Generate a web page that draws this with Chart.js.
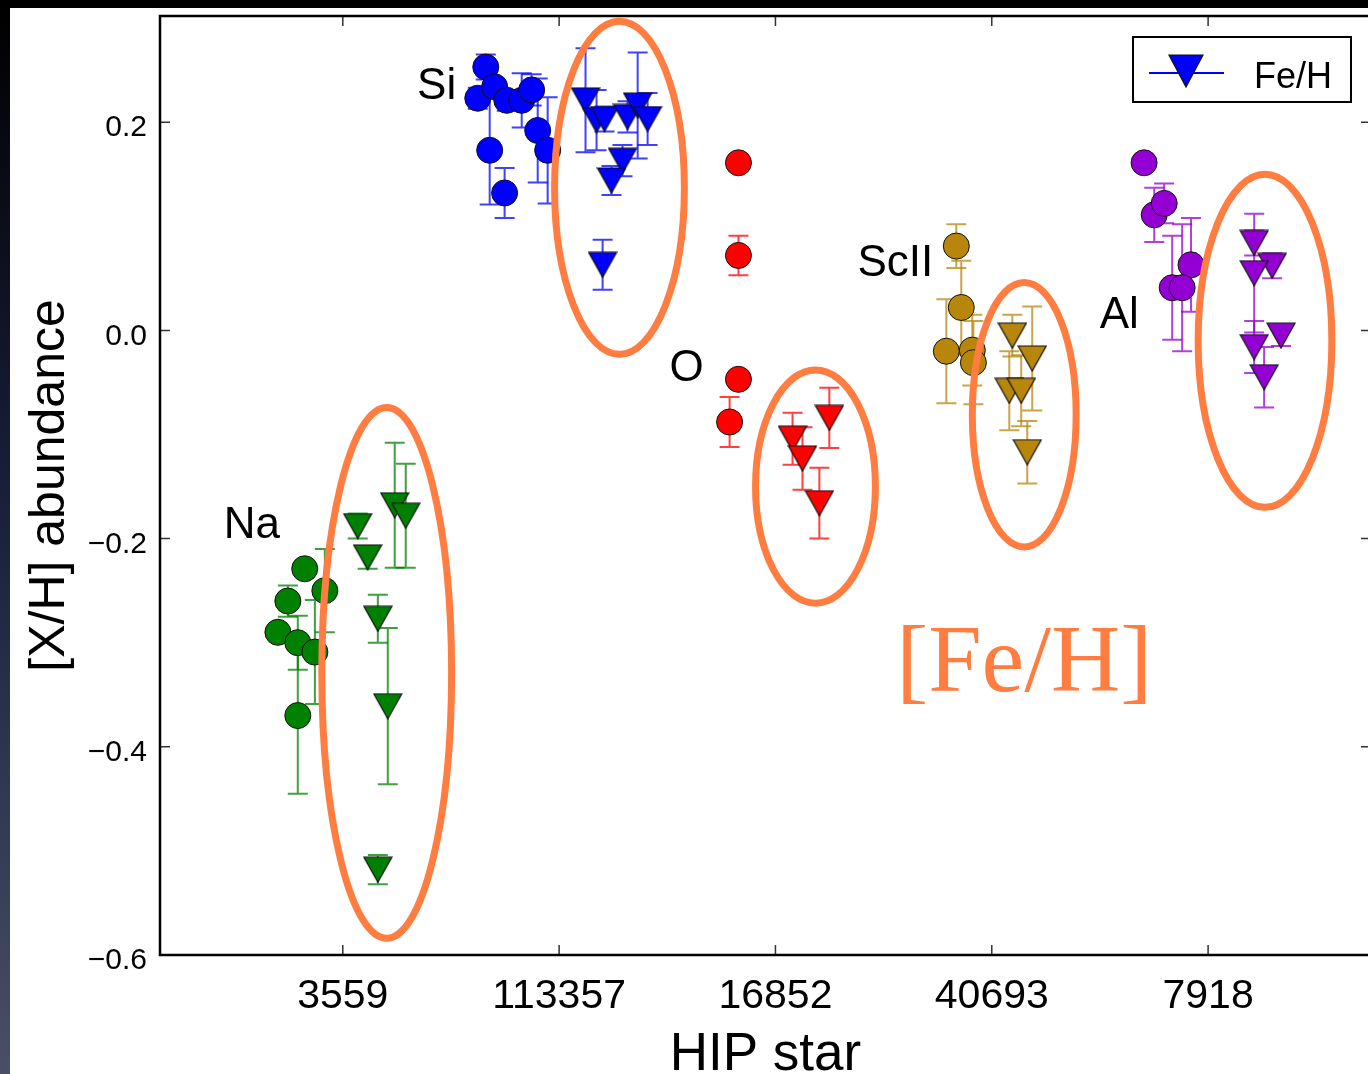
<!DOCTYPE html>
<html>
<head>
<meta charset="utf-8">
<script src="https://cdn.jsdelivr.net/npm/chart.js@4.4.1/dist/chart.umd.min.js"></script>
<style>
  html, body { margin: 0; padding: 0; overflow: hidden; background: #000; }
  #wrap { position: relative; width: 1386px; height: 1074px; }
</style>
</head>
<body>
<div id="wrap"><canvas id="chart" width="1386" height="1074"></canvas></div>
<script>
// x axis: one slot per HIP star
const starLabels = ["3559", "113357", "16852", "40693", "7918"];
const starTicks = [1, 2, 3, 4, 5];
const yTickValues = [-0.6, -0.4, -0.2, 0.0, 0.2];
const yTickLabels = ["\u22120.6", "\u22120.4", "\u22120.2", "0.0", "0.2"];

// Na (circles = element, triangles = Fe/H)
const naX = [0.824, 0.917, 0.746, 0.700, 0.792, 0.871, 0.792];
const naY = [-0.229, -0.250, -0.260, -0.290, -0.300, -0.309, -0.370];
const naErr = [0, 0.040, 0.015, 0, 0.026, 0.050, 0.075];
const naFeX = [1.069, 1.115, 1.240, 1.291, 1.162, 1.208, 1.162];
const naFeY = [-0.188, -0.218, -0.168, -0.178, -0.277, -0.361, -0.518];
const naFeErr = [0.012, 0.011, 0.060, 0.050, 0.023, 0.075, 0.014];

// Si
const siX = [1.661, 1.624, 1.702, 1.758, 1.827, 1.873, 1.901, 1.947, 1.679, 1.748];
const siY = [0.253, 0.223, 0.234, 0.221, 0.221, 0.231, 0.192, 0.173, 0.173, 0.132];
const siErr = [0.012, 0.010, 0, 0.010, 0.026, 0.015, 0.050, 0.051, 0.052, 0.024];
const siFeX = [2.122, 2.173, 2.210, 2.316, 2.363, 2.409, 2.293, 2.242, 2.201];
const siFeY = [0.221, 0.202, 0.203, 0.205, 0.216, 0.203, 0.163, 0.144, 0.063];
const siFeErr = [0.050, 0.029, 0.012, 0.015, 0.051, 0.025, 0.015, 0.014, 0.024];

// O
const oX = [2.829, 2.829, 2.829, 2.788];
const oY = [0.161, 0.072, -0.047, -0.088];
const oErr = [0, 0.019, 0, 0.024];
const oFeX = [3.079, 3.125, 3.249, 3.203];
const oFeY = [-0.104, -0.123, -0.084, -0.166];
const oFeErr = [0.025, 0.030, 0.029, 0.034];

// ScII
const scX = [3.836, 3.859, 3.790, 3.910, 3.915];
const scY = [0.081, 0.022, -0.020, -0.019, -0.031];
const scErr = [0.021, 0.045, 0.050, 0.034, 0.040];
const scFeX = [4.095, 4.187, 4.081, 4.136, 4.164];
const scFeY = [-0.005, -0.027, -0.058, -0.058, -0.117];
const scFeErr = [0.020, 0.050, 0.038, 0.034, 0.030];

// Al
const alX = [4.704, 4.751, 4.797, 4.921, 4.834, 4.880];
const alY = [0.161, 0.111, 0.122, 0.063, 0.041, 0.041];
const alErr = [0, 0.026, 0.019, 0.045, 0.050, 0.061];
const alFeX = [5.213, 5.296, 5.213, 5.337, 5.213, 5.259];
const alFeY = [0.084, 0.062, 0.055, -0.005, -0.016, -0.045];
const alFeErr = [0.012, 0.012, 0.057, 0.010, 0.025, 0.029];

// element names written next to each group (data coords)
const elemNames = ["Na", "Si", "O", "ScII", "Al"];
const elemNameX = [0.580, 1.434, 2.589, 3.554, 4.589];
const elemNameY = [-0.188, 0.234, -0.037, 0.064, 0.014];

// hand-drawn highlight ellipses round the Fe/H points (data coords)
const ringX = [1.203, 2.279, 3.185, 4.150, 5.263];
const ringY = [-0.329, 0.137, -0.150, -0.081, -0.010];
const ringRX = [0.300, 0.300, 0.277, 0.240, 0.309];
const ringRY = [0.255, 0.160, 0.112, 0.127, 0.160];

const colors = ["#008000", "#0000ff", "#ff0000", "#b8860b", "#9400d3"];
const orange = "#ff7d40";
const FONT = "'Liberation Sans', Arial, Helvetica, sans-serif";

function makeTriangle(color, w, h) {
  const c = document.createElement("canvas");
  c.width = w + 2;
  c.height = h + 2;
  const g = c.getContext("2d");
  g.beginPath();
  g.moveTo(1, 1);
  g.lineTo(w + 1, 1);
  g.lineTo(w / 2 + 1, h + 1);
  g.closePath();
  g.fillStyle = color;
  g.fill();
  g.lineWidth = 1.2;
  g.strokeStyle = "#111";
  g.stroke();
  return c;
}

function pts(xs, ys) {
  return xs.map((x, i) => ({ x: x, y: ys[i] }));
}

const elemSets = [
  [naX, naY, naErr], [siX, siY, siErr], [oX, oY, oErr], [scX, scY, scErr], [alX, alY, alErr],
];
const feSets = [
  [naFeX, naFeY, naFeErr], [siFeX, siFeY, siFeErr], [oFeX, oFeY, oFeErr],
  [scFeX, scFeY, scFeErr], [alFeX, alFeY, alFeErr],
];

const datasets = [];
elemSets.forEach((s, i) => {
  datasets.push({
    label: elemNames[i],
    data: pts(s[0], s[1]),
    errors: s[2],
    pointStyle: "circle",
    pointRadius: 13,
    backgroundColor: colors[i],
    borderColor: "#111",
    borderWidth: 1,
  });
});
feSets.forEach((s, i) => {
  datasets.push({
    label: "Fe/H",
    data: pts(s[0], s[1]),
    errors: s[2],
    pointStyle: makeTriangle(colors[i], 28, 25),
    pointRadius: 14,
    backgroundColor: colors[i],
    borderColor: colors[i],
  });
});

// slide frame + white figure background
const framePlugin = {
  id: "frame",
  beforeDraw(chart) {
    const ctx = chart.ctx;
    ctx.save();
    ctx.fillStyle = "#fff";
    ctx.fillRect(0, 0, chart.width, chart.height);
    ctx.fillStyle = "#000";
    ctx.fillRect(0, 0, chart.width, 8);
    const grad = ctx.createLinearGradient(0, 0, 0, chart.height);
    grad.addColorStop(0, "#000");
    grad.addColorStop(0.5, "#1c2140");
    grad.addColorStop(1, "#4a4f66");
    ctx.fillStyle = grad;
    ctx.fillRect(0, 8, 10, chart.height);
    ctx.restore();
  },
};

// vertical error bars with caps
const errorBarPlugin = {
  id: "errorBars",
  beforeDatasetsDraw(chart) {
    const ctx = chart.ctx;
    const xs = chart.scales.x;
    const ys = chart.scales.y;
    ctx.save();
    ctx.lineWidth = 2;
    ctx.globalAlpha = 0.75;
    chart.data.datasets.forEach((ds) => {
      ctx.strokeStyle = ds.backgroundColor;
      ds.data.forEach((p, i) => {
        const e = ds.errors[i];
        if (!e) return;
        const px = xs.getPixelForValue(p.x);
        const y1 = ys.getPixelForValue(p.y + e);
        const y2 = ys.getPixelForValue(p.y - e);
        ctx.beginPath();
        ctx.moveTo(px, y1);
        ctx.lineTo(px, y2);
        ctx.moveTo(px - 10, y1);
        ctx.lineTo(px + 10, y1);
        ctx.moveTo(px - 10, y2);
        ctx.lineTo(px + 10, y2);
        ctx.stroke();
      });
    });
    ctx.restore();
  },
};

// axes box, inward ticks, element names, orange notes, legend
const decorPlugin = {
  id: "decor",
  afterDatasetsDraw(chart) {
    const ctx = chart.ctx;
    const xs = chart.scales.x;
    const ys = chart.scales.y;
    const a = chart.chartArea;
    ctx.save();

    // ticks on all four sides
    ctx.strokeStyle = "#333";
    ctx.lineWidth = 1.5;
    ctx.beginPath();
    starTicks.forEach((v) => {
      const px = xs.getPixelForValue(v);
      ctx.moveTo(px, a.bottom);
      ctx.lineTo(px, a.bottom - 10);
      ctx.moveTo(px, a.top);
      ctx.lineTo(px, a.top + 10);
    });
    yTickValues.forEach((v) => {
      const py = ys.getPixelForValue(v);
      ctx.moveTo(a.left, py);
      ctx.lineTo(a.left + 10, py);
      ctx.moveTo(a.right, py);
      ctx.lineTo(a.right - 10, py);
    });
    ctx.stroke();

    ctx.strokeStyle = "#000";
    ctx.lineWidth = 2.5;
    ctx.strokeRect(a.left, a.top, a.right - a.left, a.bottom - a.top);

    // element names
    ctx.fillStyle = "#000";
    ctx.font = "44px " + FONT;
    ctx.textAlign = "center";
    ctx.textBaseline = "middle";
    elemNames.forEach((n, i) => {
      ctx.fillText(n, xs.getPixelForValue(elemNameX[i]), ys.getPixelForValue(elemNameY[i]));
    });

    // orange ellipses
    ctx.strokeStyle = orange;
    ctx.lineWidth = 7;
    ringX.forEach((cx, i) => {
      const px = xs.getPixelForValue(cx);
      const py = ys.getPixelForValue(ringY[i]);
      const rx = Math.abs(xs.getPixelForValue(cx + ringRX[i]) - px);
      const ry = Math.abs(ys.getPixelForValue(ringY[i] + ringRY[i]) - py);
      ctx.beginPath();
      ctx.ellipse(px, py, rx, ry, 0, 0, Math.PI * 2);
      ctx.stroke();
    });

    // big [Fe/H] note
    ctx.fillStyle = orange;
    ctx.font = "96px 'Liberation Serif', 'Times New Roman', serif";
    ctx.fillText("[Fe/H]", xs.getPixelForValue(4.15), ys.getPixelForValue(-0.322));

    // legend box (single entry)
    const lx = a.right - 20 - 218;
    const ly = a.top + 21;
    ctx.fillStyle = "#fff";
    ctx.fillRect(lx, ly, 218, 65);
    ctx.strokeStyle = "#000";
    ctx.lineWidth = 2;
    ctx.strokeRect(lx, ly, 218, 65);
    ctx.strokeStyle = colors[1];
    ctx.lineWidth = 2;
    ctx.beginPath();
    ctx.moveTo(lx + 16, ly + 36);
    ctx.lineTo(lx + 91, ly + 36);
    ctx.stroke();
    const tri = makeTriangle(colors[1], 34, 32);
    ctx.drawImage(tri, lx + 53 - tri.width / 2, ly + 34 - tri.height / 2);
    ctx.fillStyle = "#000";
    ctx.font = "36px " + FONT;
    ctx.textAlign = "left";
    ctx.textBaseline = "alphabetic";
    ctx.fillText("Fe/H", lx + 121, ly + 51);

    ctx.restore();
  },
};

new Chart(document.getElementById("chart"), {
  type: "scatter",
  data: { datasets: datasets },
  plugins: [framePlugin, errorBarPlugin, decorPlugin],
  options: {
    responsive: false,
    animation: false,
    events: [],
    layout: { padding: { top: 16, right: 0, left: 0, bottom: 0 } },
    plugins: { legend: { display: false }, tooltip: { enabled: false } },
    scales: {
      x: {
        type: "linear",
        min: 0.155,
        max: 5.753,
        afterBuildTicks: (s) => { s.ticks = starTicks.map((v) => ({ value: v })); },
        afterFit: (s) => {
          s.height = 119;
          s.paddingLeft = 0;
          s.paddingRight = 0;
          s.paddingTop = 0;
          s.paddingBottom = 0;
        },
        grid: { display: false, drawTicks: false },
        border: { display: false },
        ticks: {
          padding: 17,
          color: "#000",
          font: { family: FONT, size: 41 },
          maxRotation: 0,
          callback: (v) => starLabels[starTicks.indexOf(v)] || "",
        },
        title: {
          display: true,
          text: "HIP star",
          color: "#000",
          font: { family: FONT, size: 53, lineHeight: 0.8 },
          padding: { top: 0, bottom: -3 },
        },
      },
      y: {
        type: "linear",
        min: -0.6,
        max: 0.302,
        afterBuildTicks: (s) => { s.ticks = yTickValues.map((v) => ({ value: v })); },
        afterFit: (s) => {
          s.width = 160;
          s.paddingLeft = 0;
          s.paddingRight = 0;
          s.paddingTop = 0;
          s.paddingBottom = 0;
        },
        grid: { display: false, drawTicks: false },
        border: { display: false },
        ticks: {
          padding: 13,
          labelOffset: 6,
          color: "#000",
          font: { family: FONT, size: 30, lineHeight: 1.0 },
          callback: (v) => yTickLabels[yTickValues.indexOf(v)] || "",
        },
        title: {
          display: true,
          text: "[X/H] abundance",
          color: "#000",
          font: { family: FONT, size: 50, lineHeight: 1.2 },
          padding: { top: 20, bottom: 0 },
        },
      },
    },
  },
});
</script>
</body>
</html>
